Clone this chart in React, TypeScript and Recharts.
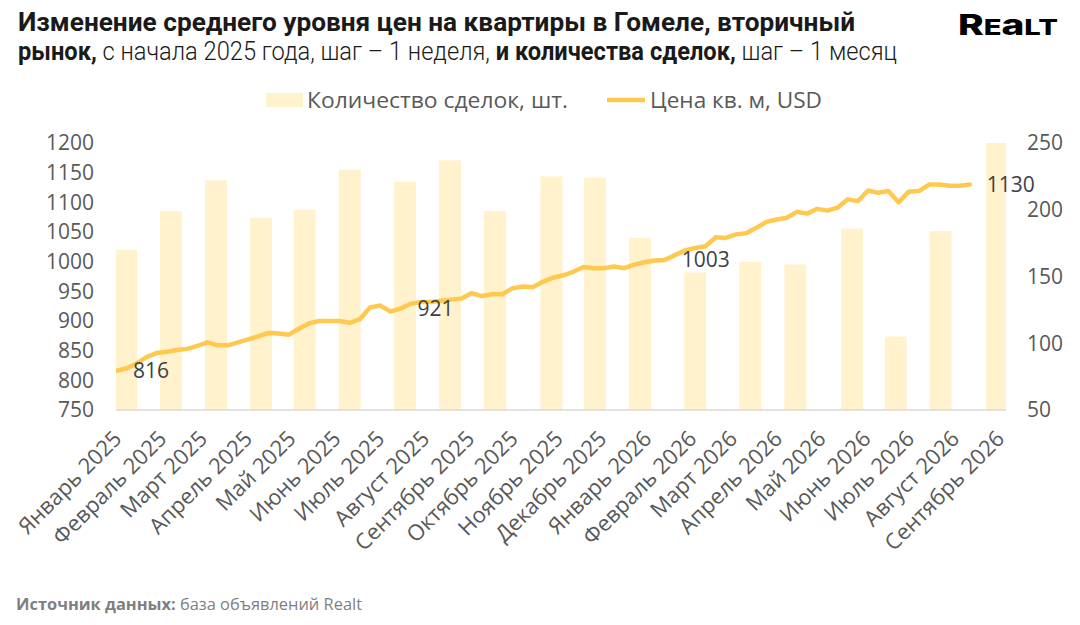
import React from 'react';
import { ComposedChart, Bar, Line, XAxis, YAxis, LabelList } from 'recharts';

const START_DATE = '2025-01-01';
const AXIS_END_DATE = '2026-09-06';

const monthTickDates = [
  '2025-01-01', '2025-02-01', '2025-03-01', '2025-04-01', '2025-05-01', '2025-06-01', '2025-07-01',
  '2025-08-01', '2025-09-01', '2025-10-01', '2025-11-01', '2025-12-01', '2026-01-01', '2026-02-01',
  '2026-03-01', '2026-04-01', '2026-05-01', '2026-06-01', '2026-07-01', '2026-08-01', '2026-09-01',
];

const monthLabels = [
  'Январь 2025', 'Февраль 2025', 'Март 2025', 'Апрель 2025', 'Май 2025', 'Июнь 2025', 'Июль 2025',
  'Август 2025', 'Сентябрь 2025', 'Октябрь 2025', 'Ноябрь 2025', 'Декабрь 2025', 'Январь 2026',
  'Февраль 2026', 'Март 2026', 'Апрель 2026', 'Май 2026', 'Июнь 2026', 'Июль 2026', 'Август 2026',
  'Сентябрь 2026',
];

// weekly price per sq. m, USD (one value per week from START_DATE)
const priceWeekly = [
  816, 820, 828, 839, 846, 848, 851, 853, 858, 864,
  859, 859, 864, 869, 874, 880, 879, 877, 887, 896,
  900, 900, 900, 897, 903, 923, 926, 916, 921, 929,
  932, 932, 934, 936, 938, 947, 942, 945, 945, 955,
  958, 957, 966, 973, 977, 983, 991, 989, 989, 992,
  989, 995, 999, 1002, 1003, 1011, 1019, 1023, 1026, 1041,
  1040, 1046, 1048, 1057, 1067, 1071, 1074, 1084, 1081, 1089,
  1086, 1091, 1105, 1102, 1120, 1116, 1119, 1100, 1118, 1119,
  1130, 1130, 1128, 1128, 1130,
];

const priceLabelWeeks = [0, 28, 54, 84];

// monthly number of deals
const dealDates = [
  '2025-01-08', '2025-02-08', '2025-03-11', '2025-04-11', '2025-05-11', '2025-06-11', '2025-07-19',
  '2025-08-19', '2025-09-19', '2025-10-28', '2025-11-27', '2025-12-28', '2026-02-04', '2026-03-14',
  '2026-04-14', '2026-05-23', '2026-06-22', '2026-07-23', '2026-08-31',
];
const dealCounts = [170, 199, 222, 194, 200, 230, 221, 237, 199, 225, 224, 179, 153, 161, 159, 186, 105, 184, 250];

const priceTicks = [750, 800, 850, 900, 950, 1000, 1050, 1100, 1150, 1200];
const dealTicks = [50, 100, 150, 200, 250];

const DAY_MS = 86400000;
const dayOf = (iso: string) => Math.round((Date.parse(iso) - Date.parse(START_DATE)) / DAY_MS);

const monthDays = monthTickDates.map(dayOf);
const axisEnd = dayOf(AXIS_END_DATE);

type Row = { day: number; price?: number; priceLabel?: number; deals?: number };
const rows: Row[] = [];
priceWeekly.forEach((v, i) => {
  rows.push({ day: i * 7, price: v, priceLabel: priceLabelWeeks.includes(i) ? v : undefined });
});
dealDates.forEach((d, i) => {
  rows.push({ day: dayOf(d), deals: dealCounts[i] });
});
rows.sort((a, b) => a.day - b.day);

const LINE_COLOR = '#FFC94F';
const BAR_COLOR = '#FFF2CC';
const AXIS_TEXT = '#595959';
const FONT = "'Open Sans', sans-serif";
const BAR_WIDTH = 22;

const MonthTick = (props: any) => {
  const { x, y, payload } = props;
  const idx = monthDays.indexOf(payload.value);
  if (idx < 0) return null;
  return (
    <g transform={`translate(${x + 7},${y + 30})`}>
      <text textAnchor="end" transform="rotate(-45)" fontSize={22} fill={AXIS_TEXT} fontFamily={FONT}>
        {monthLabels[idx]}
      </text>
    </g>
  );
};

// Bar centred on its date (scale-computed x/height), drawn with a fixed width
const DealBar = (props: any) => {
  const { x, y, width, height, fill } = props;
  if ([x, y, width, height].some((v) => v == null || !isFinite(v))) return null;
  const cx = x + width / 2;
  return <rect x={cx - BAR_WIDTH / 2} y={y} width={BAR_WIDTH} height={height} fill={fill} />;
};

const PriceLabel = (props: any) => {
  const { x, y, value } = props;
  if (value == null || x == null || y == null) return null;
  return (
    <text x={x + 17} y={y} dy="0.36em" fontSize={21} fill="#404040" fontFamily={FONT}>
      {value}
    </text>
  );
};

export default function App() {
  return (
    <div style={{ position: 'absolute', left: 0, top: 0, width: 1080, height: 625, background: '#ffffff', overflow: 'hidden' }}>
      <ComposedChart width={1080} height={625} data={rows} margin={{ top: 143, right: 0, bottom: 0, left: 0 }}>
        <XAxis
          xAxisId="d"
          type="number"
          dataKey="day"
          domain={[0, axisEnd]}
          ticks={monthDays}
          interval={0}
          tick={<MonthTick />}
          tickLine={false}
          tickSize={0}
          tickMargin={0}
          height={215}
          axisLine={{ stroke: '#D9D9D9', strokeWidth: 1.5 }}
          allowDataOverflow
        />
        <YAxis
          yAxisId="price"
          orientation="left"
          width={116}
          domain={[750, 1200]}
          ticks={priceTicks}
          interval={0}
          axisLine={false}
          tickLine={false}
          tickSize={0}
          tickMargin={22}
          tick={{ fontSize: 21, fill: AXIS_TEXT, fontFamily: FONT }}
          allowDataOverflow
        />
        <YAxis
          yAxisId="deals"
          orientation="right"
          width={74}
          domain={[50, 250]}
          ticks={dealTicks}
          interval={0}
          axisLine={false}
          tickLine={false}
          tickSize={0}
          tickMargin={21}
          tick={{ fontSize: 21, fill: AXIS_TEXT, fontFamily: FONT, textAnchor: 'start' }}
          allowDataOverflow
        />
        <Bar
          xAxisId="d"
          yAxisId="deals"
          dataKey="deals"
          barSize={BAR_WIDTH}
          fill={BAR_COLOR}
          shape={<DealBar />}
          isAnimationActive={false}
        />
        <Line
          xAxisId="d"
          yAxisId="price"
          dataKey="price"
          type="linear"
          stroke={LINE_COLOR}
          strokeWidth={4.5}
          strokeLinejoin="round"
          strokeLinecap="round"
          dot={false}
          activeDot={false}
          connectNulls
          isAnimationActive={false}
        >
          <LabelList dataKey="priceLabel" content={<PriceLabel />} />
        </Line>
      </ComposedChart>

      <svg width={1080} height={625} style={{ position: 'absolute', left: 0, top: 0, pointerEvents: 'none' }}>
        <text x={18} y={31} fontSize={25} fontWeight={700} fill="#1a1a1a" fontFamily="Roboto, sans-serif"
          textLength={837} lengthAdjust="spacingAndGlyphs">
          Изменение среднего уровня цен на квартиры в Гомеле, вторичный
        </text>
        <text x={18} y={60} fontSize={25} fill="#1a1a1a" fontFamily="Roboto, sans-serif"
          textLength={879} lengthAdjust="spacingAndGlyphs">
          <tspan fontWeight={700}>рынок,</tspan>
          <tspan fontWeight={300}> с начала 2025 года, шаг – 1 неделя, </tspan>
          <tspan fontWeight={700}>и количества сделок,</tspan>
          <tspan fontWeight={300}> шаг – 1 месяц</tspan>
        </text>

        <text x={958} y={35} fill="#000" fontFamily="Inter, sans-serif" fontWeight={800}
          textLength={100} lengthAdjust="spacingAndGlyphs">
          <tspan fontSize={28}>R</tspan>
          <tspan fontSize={21}>E</tspan>
          <tspan fontSize={28}>a</tspan>
          <tspan fontSize={21}>LT</tspan>
        </text>

        <rect x={266} y={93} width={37} height={14} fill={BAR_COLOR} />
        <text x={307} y={100} dy="0.35em" fontSize={22} fill={AXIS_TEXT} fontFamily={FONT}
          textLength={261} lengthAdjust="spacingAndGlyphs">
          Количество сделок, шт.
        </text>
        <line x1={607} x2={645} y1={100} y2={100} stroke={LINE_COLOR} strokeWidth={4.5} />
        <text x={650} y={100} dy="0.35em" fontSize={22} fill={AXIS_TEXT} fontFamily={FONT}
          textLength={172} lengthAdjust="spacingAndGlyphs">
          Цена кв. м, USD
        </text>

        <text x={16} y={610} fontSize={16} fill="#7F7F7F" fontFamily={FONT} textLength={346} lengthAdjust="spacingAndGlyphs">
          <tspan fontWeight={700}>Источник данных:</tspan>
          <tspan> база объявлений Realt</tspan>
        </text>
      </svg>
    </div>
  );
}
